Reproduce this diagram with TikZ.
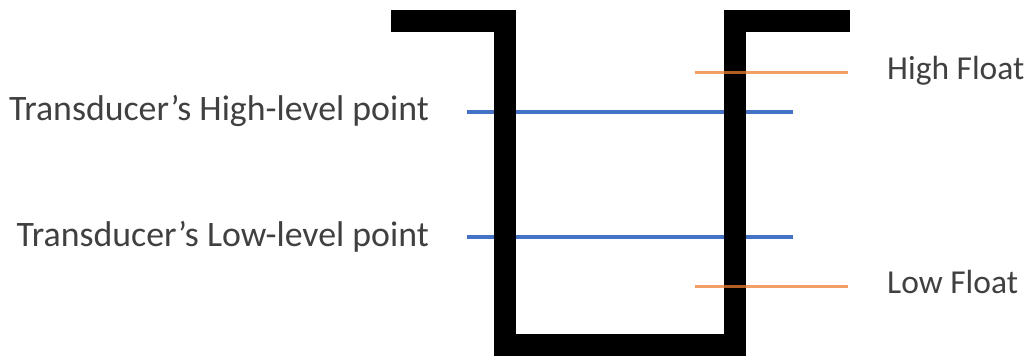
\documentclass[tikz,border=0pt]{standalone}
\usepackage{fontspec}
\setmainfont{Carlito}
\definecolor{tankblack}{HTML}{000000}
\definecolor{sensorblue}{HTML}{4472C4}
\definecolor{floatorange}{HTML}{ED7D31}
\definecolor{labelgray}{HTML}{404040}
\tikzset{
  tankwall/.style={draw=tankblack, line width=22pt, miter limit=10},
  sensorline/.style={draw=sensorblue, line width=4pt},
  floatline/.style={draw=floatorange, line width=3pt, opacity=0.75},
  label/.style={text=labelgray, inner sep=0pt},
  bigfont/.style={font=\fontsize{35.8}{38}\selectfont},
  smallfont/.style={font=\fontsize{33.5}{36}\selectfont}
}
\begin{document}
\begin{tikzpicture}[x=1pt,y=-1pt]
  \useasboundingbox (0,0) rectangle (1032,358);

  % transducer level points (behind the tank wall)
  \coordinate (hs) at (467,112);
  \coordinate (he) at (793,112);
  \coordinate (ls) at (467,237);
  \coordinate (le) at (793,237);
  \draw[sensorline] (hs) -- (he);
  \draw[sensorline] (ls) -- (le);

  % tank cross-section
  \draw[tankwall] (391,21.5) -- (504.5,21.5) -- (504.5,345) -- (735,345) -- (735,21.5) -- (850,21.5);

  % float switches
  \coordinate (hfs) at (695,73);
  \coordinate (hfe) at (848,73);
  \coordinate (lfs) at (695,286);
  \coordinate (lfe) at (848,286);
  \draw[floatline] (hfs) -- (hfe);
  \draw[floatline] (lfs) -- (lfe);

  % labels
  \node[label, bigfont, anchor=base east] (thigh) at (429,121) {Transducer’s High-level point};
  \node[label, bigfont, anchor=base east] (tlow) at (429,246) {Transducer’s Low-level point};
  \node[label, smallfont, anchor=base west] (fhigh) at (887,80) {High Float};
  \node[label, smallfont, anchor=base west] (flow) at (887,293) {Low Float};
\end{tikzpicture}
\end{document}
